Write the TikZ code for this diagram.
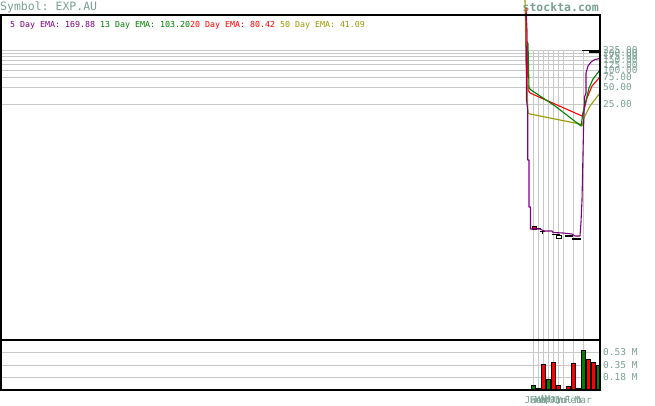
\documentclass[tikz,border=0pt]{standalone}
\usepackage{fontspec}
\setmonofont{DejaVu Sans Mono}
\definecolor{sitegray}{RGB}{122,160,145}
\definecolor{gridgray}{RGB}{200,200,200}
\definecolor{emapurple}{RGB}{128,0,128}
\definecolor{emagreen}{RGB}{0,128,0}
\definecolor{emared}{RGB}{255,0,0}
\definecolor{emaolive}{RGB}{153,153,0}

\begin{document}
\begin{tikzpicture}[x=1pt, y=-1pt,
    gridline/.style={gridgray, line width=0.9pt},
    axlabel/.style={sitegray, font=\ttfamily\fontsize{9.5}{10}\selectfont, anchor=west, inner sep=0pt},
    emaline/.style={line width=1.1pt, line join=round},
    candle/.style={black, line width=0.8pt},
    volbar/.style={draw=black, line width=0.5pt}]
    \useasboundingbox (0,0) rectangle (655,406);

    % grid of both panels
    \foreach \y in {50.2,53.1,56.3,60.1,64.6,70,77.1,87,104,352,365,377}
      \draw [gridline] (1,\y) -- (600,\y);
    \foreach \x in {533.3,538.3,543.3,548.3,553.3,558.3,563.3,573.3,583.3}
      \draw [gridline] (\x,50.2) -- (\x,390);

    \node [sitegray, font=\ttfamily\fontsize{11.5}{12}\selectfont, anchor=base west, inner sep=0pt] (symbol) at (0,11) {Symbol: EXP.AU};
    \node [sitegray, font=\ttfamily\bfseries\fontsize{11.5}{12}\selectfont, anchor=base east, inner sep=0pt] (site) at (599,12) {stockta.com};
    \node [font=\ttfamily\fontsize{8.3}{9}\selectfont, anchor=base west, inner sep=0pt] (legend) at (10,28)
      {\textcolor{emapurple}{5 Day EMA: 169.88 }\textcolor{emagreen}{13 Day EMA: 103.20}\textcolor{emared}{20 Day EMA: 80.42 }\textcolor{emaolive}{50 Day EMA: 41.09}};

    % price and volume scales
    \foreach \y/\val [count=\i] in {50.2/225.00,53.1/200.00,56.3/175.00,60.1/150.00,64.6/125.00,70/100.00,77.1/75.00,87/50.00,104/25.00}
      \node [axlabel] (price\i) at (603,\y) {\val};
    \foreach \y/\val [count=\i] in {352/0.53 M,365/0.35 M,377/0.18 M}
      \node [axlabel] (vol\i) at (603,\y) {\val};
    \foreach \x/\m [count=\i] in {533.3/Jan,538.3/Feb,543.3/Mar,548.3/Apr,553.3/May,558.3/Jun,563.3/Jul,573.3/Feb,583.3/Mar}
      \node [axlabel, anchor=center] (month\i) at (\x,400) {\m};

    % candles
    \draw [candle, fill=emared] (532,226.5) rectangle (536,229.5);
    \draw [candle] (536,228) -- (541,228);
    \draw [candle] (540,231.5) -- (545,231.5) (542.5,230) -- (542.5,234);
    \draw [candle] (552,234) -- (560,234);
    \draw [candle, fill=white] (556,235) rectangle (561,238);
    \draw [candle, fill=black] (565,235) rectangle (572,236.5);
    \draw [candle, fill=black] (572,238) rectangle (580,239.5);
    \draw [candle] (582,50.5) -- (600,50.5);
    \draw [candle, fill=black] (589,50.5) rectangle (592,52);
    \draw [candle, fill=black] (592,51) rectangle (598,52.5);

    % moving averages
    \draw [emaline, emaolive] (525,0) -- (526,60) -- (528,113) -- (530,114) -- (580,124) -- (582,126) -- (584,118) -- (590,106) -- (600,93);
    \draw [emaline, emared] (526,8) -- (527,30) -- (528,90) -- (530,93) -- (582,116) -- (584,110) -- (587,98) -- (592,86) -- (600,77);
    \draw [emaline, emagreen] (528,43) -- (529,88) -- (531,90) -- (555,106) -- (581,126) -- (583,113) -- (586,100) -- (589,88) -- (593,79) -- (600,70);
    \draw [emaline, emapurple] (526,13) -- (526.5,100) -- (527.7,110) -- (527.7,160) -- (529,160) -- (529,207) -- (530.5,207) -- (530.5,229)
      -- (540,229) -- (544,231) -- (552,231) -- (553,232.5) -- (563,233) -- (572,234) -- (575,236) -- (580,236) -- (581,222) -- (582,200)
      -- (583.5,130) -- (584.5,97) -- (586,93) -- (586,73) -- (588,66) -- (591,62) -- (595,59.5) -- (600,58.5);

    % volume bars
    \foreach \x/\t/\c in {533.3/385/emagreen,538.3/388.5/emagreen,543.3/364/emared,548.3/379/emagreen,553.3/362/emared,558.3/385/emared,568.3/386/emared,573.3/363/emared,578.3/388/emagreen,583.3/350/emagreen,588.3/359/emared,593.3/362/emared,598.3/365/emagreen}
      \draw [volbar, fill=\c] (\x-2,\t) rectangle (\x+2,390);

    \draw [line width=1.3pt] (1,15) rectangle (600,390);
    \draw [line width=1.3pt] (1,340) -- (600,340);
  \end{tikzpicture}
\end{document}
